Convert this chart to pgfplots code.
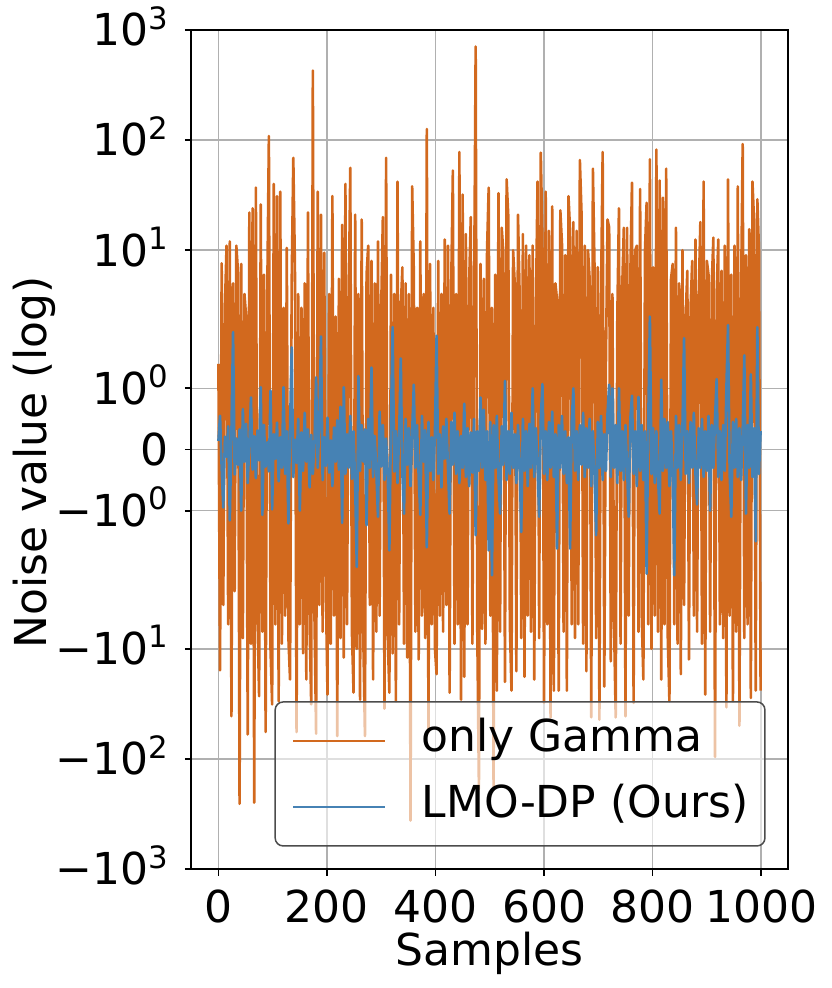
\documentclass[border=0pt]{standalone}
\usepackage{pgfplots}
\pgfplotsset{compat=1.18}
\usepackage{fontspec}
\setmainfont{DejaVu Sans}
\definecolor{gammaorange}{HTML}{D2691E}
\definecolor{lmoblue}{HTML}{4682B4}
\newcommand{\fs}{\fontsize{22}{26}\selectfont}
\newcommand{\pw}[2]{#110\raisebox{8.3pt}{\fontsize{15.4}{16}\selectfont #2}}
\begin{document}
\begin{tikzpicture}
\begin{axis}[
  at={(0pt,0pt)}, anchor=south west,
  scale only axis, width=298.2pt, height=419.5pt,
  xmin=-49.95, xmax=1048.95, ymin=-3.81008, ymax=3.81008,
  y filter/.expression={abs(y)<2 ? 0.5555556*y : (y/abs(y))*(1.1111111+0.4342945*ln(abs(y)/2))},
  xtick={0,200,400,600,800,1000},
  xticklabels={0,200,400,600,800,1000},
  ytick={-3.81008,-2.81008,-1.81008,-0.555556,0,0.555556,1.81008,2.81008,3.81008},
  yticklabels={\pw{−}{3},\pw{−}{2},\pw{−}{1},\pw{−}{0},0,\pw{}{0},\pw{}{1},\pw{}{2},\pw{}{3}},
  tick pos=left, tick align=outside,
  major tick length=3.25pt,
  minor tick num=0,
  tick style={black, line width=0.85pt},
  axis line style={black, line width=0.85pt},
  grid=major,
  major grid style={color=black!31, line width=0.75pt},
  xticklabel style={font=\fs, anchor=base, inner sep=0pt, yshift=-23.5pt},
  yticklabel style={font=\fs, anchor=base east, inner sep=0pt, xshift=-8.2pt, yshift=-7.9pt},
  xlabel={Samples},
  xlabel style={at={(axis description cs:0.5,-0.11526)}, anchor=base, font=\fs, inner sep=0pt},
  ylabel={Noise value (log)},
  ylabel style={at={(axis description cs:-0.2425,0.4845)}, anchor=base, rotate=0, font=\fs, inner sep=0pt},
  legend cell align=left,
  legend style={at={(axis description cs:0.9631,0.02658)}, anchor=south east,
    draw=black!70, line width=0.75pt, rounded corners=4pt,
    fill=white, fill opacity=0.6, text opacity=1, draw opacity=1,
    inner xsep=8.35pt, inner ysep=9pt, row sep=12pt, column sep=17.8pt,
    font=\fs, nodes={inner sep=0pt, text height=16pt, text depth=5pt}},
  legend image code/.code={\draw[#1, line width=1.3pt, opacity=1] (0pt,0pt) -- (45.85pt,0pt);},
  every axis plot/.append style={line width=1.3pt, line join=round, mark=none},
]
\addplot[color=gammaorange] coordinates {
(0,1.4)(3,-15.7)(6,7.6)(9,-4)(12,3)(15,11)(18,-6)(21,12)(24,-41)(27,5)
(30,-3)(33,11)(36,6.5)(39,-256)(42,7.5)(45,-8)(48,4)(51,2.5)(54,-60)(57,22)
(60,-9)(63,24)(66,-250)(69,37)(72,-5)(75,-27)(78,26)(81,-7)(84,6)(87,-57)
(90,4)(93,109)(96,-10)(99,-32)(102,40)(105,-6)(108,31)(111,-30)(114,34)(117,-9)
(120,3)(123,-5)(126,10.5)(129,-8)(132,-19)(135,5)(138,69)(141,7)(144,-57)(147,4)
(150,-6)(153,3)(156,-11)(159,5)(162,-19)(165,22)(168,-6)(171,-32)(174,428)(177,-5)
(180,-59)(183,34)(186,-4)(189,21)(192,-7)(195,9.5)(198,-3)(201,-26)(204,4)(207,-9)
(210,31)(213,-5)(216,2.5)(219,-62)(222,5.5)(225,-8)(228,17)(231,-12)(234,40)(237,-6)
(240,3)(243,56)(246,-7)(249,-25)(252,21)(255,-10)(258,4)(261,-29)(264,19)(267,-8)
(270,-62)(273,6)(276,11)(279,-4)(282,8)(285,-19)(288,5)(291,-7)(294,12)(297,-5)
(300,3)(303,20)(306,-35)(309,69)(312,-8)(315,-25)(318,6)(321,-11)(324,4)(327,-30)
(330,42)(333,-6)(336,3)(339,7)(342,-9)(345,5)(348,-12)(351,4)(354,-363)(357,38)
(360,6.5)(363,-7)(366,3)(369,-12.5)(372,12)(375,-5)(378,4)(381,-8)(384,126)(387,-57)
(390,7.5)(393,-6)(396,3)(399,-10)(402,-17)(405,8)(408,-5)(411,4)(414,-7)(417,12.5)
(420,-4)(423,11)(426,-25)(429,5)(432,53)(435,-9)(438,4)(441,-6)(444,78)(447,-29)
(450,32)(453,-18)(456,14)(459,-6)(462,5)(465,20)(468,-9)(471,3)(474,708)(477,-7)
(480,-187)(483,7.5)(486,-6.6)(489,5.5)(492,-9)(495,10)(498,37)(501,-5)(504,3)(507,-180)
(510,6)(513,-24)(516,33)(519,-7)(522,16)(525,9.5)(528,-20)(531,44)(534,21)(537,-6)
(540,-24)(543,10)(546,5)(549,-16)(552,21)(555,4)(558,-8)(561,14)(564,-18)(567,11)
(570,-5)(573,9)(576,-7)(579,11)(582,-19)(585,3)(588,42)(591,-8)(594,77)(597,12.5)
(600,-31)(603,34)(606,-6)(609,15)(612,-42)(615,25)(618,-24)(621,5)(624,3.5)(627,-24)
(630,23)(633,11.5)(636,-7)(639,9)(642,-24)(645,31)(648,15)(651,-6)(654,18)(657,-8)
(660,15)(663,-6)(666,66)(669,22)(672,-9)(675,11)(678,-16)(681,10)(684,5.5)(687,-42)
(690,55)(693,7)(696,-8)(699,7)(702,-44)(705,4)(708,78)(711,-22)(714,1.4)(717,19)
(720,16)(723,-13)(726,4)(729,-6)(732,-42)(735,2.5)(738,24)(741,-9)(744,4.5)(747,16)
(750,-41)(753,16)(756,-5)(759,6)(762,41)(765,-31)(768,10)(771,11)(774,-7)(777,36)
(780,-5)(783,-19)(786,10)(789,27)(792,-6)(795,67)(798,-10)(801,7)(804,-5)(807,82)
(810,-7)(813,43)(816,-19)(819,30)(822,-6)(825,55)(828,-8)(831,-30)(834,5.5)(837,7.5)
(840,-6)(843,16)(846,-9)(849,5)(852,-17)(855,10)(858,-4)(861,2.5)(864,6.5)(867,-12.5)
(870,3)(873,8)(876,-5)(879,12.5)(882,-7)(885,4)(888,18)(891,-9)(894,42)(897,-26)
(900,8)(903,6)(906,-7)(909,5)(912,13)(915,-96)(918,4)(921,12.5)(924,-6)(927,6.5)
(930,-8)(933,11)(936,-34)(939,44)(942,-5)(945,6)(948,-30)(951,11)(954,-7)(957,38)
(960,-50)(963,4)(966,92)(969,-8)(972,9)(975,-6)(978,15.5)(981,-28)(984,42)(987,18)
(990,-24)(993,29)(996,10)(999,-24)
};
\addlegendentry{only Gamma}
\addplot[color=lmoblue] coordinates {
(0,0.14)(3,0.55)(6,-0.3)(9,-0.95)(12,0.21)(15,-0.12)(18,0.38)(21,-1.16)(24,0.27)(27,1.92)
(30,-0.41)(33,0.18)(36,-0.25)(39,0.33)(42,-1.0)(45,0.66)(48,-0.2)(51,0.42)(54,-0.55)(57,0.09)
(60,0.85)(63,-0.33)(66,0.22)(69,-0.47)(72,0.31)(75,-0.18)(78,1.02)(81,-1.07)(84,0.4)(87,-0.28)
(90,0.12)(93,-0.36)(96,0.96)(99,-0.98)(102,0.25)(105,-0.15)(108,0.44)(111,-0.52)(114,0.2)(117,-0.3)
(120,1.02)(123,-0.4)(126,0.3)(129,-1.21)(132,0.35)(135,1.67)(138,-0.45)(141,0.16)(144,-0.22)(147,0.5)
(150,-1.0)(153,0.28)(156,-0.35)(159,0.6)(162,-0.2)(165,0.33)(168,-0.62)(171,0.24)(174,-0.4)(177,0.1)
(180,1.18)(183,-0.3)(186,0.45)(189,1.85)(192,-0.5)(195,0.2)(198,-0.27)(201,0.52)(204,-0.38)(207,0.15)
(210,-0.6)(213,0.36)(216,-0.2)(219,0.48)(222,-0.33)(225,0.7)(228,-1.2)(231,1.02)(234,-0.4)(237,0.25)
(240,-0.3)(243,0.55)(246,-0.48)(249,0.3)(252,-0.6)(255,-1.92)(258,1.2)(261,-0.35)(264,0.4)(267,-0.2)
(270,0.33)(273,-1.24)(276,0.5)(279,-0.3)(282,1.34)(285,-0.45)(288,0.22)(291,-0.35)(294,-1.1)(297,0.62)
(300,-0.28)(303,0.4)(306,-0.5)(309,0.18)(312,-0.4)(315,-1.65)(318,0.47)(321,2.0)(324,-0.36)(327,0.3)
(330,-0.55)(333,0.25)(336,1.49)(339,-0.4)(342,-1.05)(345,0.5)(348,-0.25)(351,0.35)(354,-0.6)(357,0.28)
(360,1.06)(363,-0.3)(366,0.4)(369,-0.45)(372,-1.07)(375,0.55)(378,-0.2)(381,0.32)(384,-1.6)(387,0.45)
(390,-0.35)(393,0.2)(396,-0.5)(399,0.3)(402,1.86)(405,-0.4)(408,0.25)(411,-0.62)(414,0.38)(417,-0.15)
(420,0.5)(423,-0.3)(426,-1.05)(429,0.45)(432,-0.25)(435,0.6)(438,-0.4)(441,0.3)(444,-0.55)(447,0.22)
(450,-0.3)(453,0.75)(456,-0.45)(459,0.35)(462,-0.6)(465,0.28)(468,-0.38)(471,0.5)(474,-1.4)(477,0.3)
(480,-0.35)(483,0.85)(486,-0.3)(489,0.65)(492,-0.5)(495,0.3)(498,-1.65)(501,0.45)(504,-2.15)(507,0.4)
(510,-0.3)(513,0.55)(516,-0.45)(519,-1.05)(522,0.38)(525,-0.25)(528,1.12)(531,-0.5)(534,0.3)(537,-0.4)
(540,0.6)(543,-0.3)(546,0.25)(549,-0.55)(552,0.4)(555,-0.2)(558,-1.35)(561,0.5)(564,-0.35)(567,0.3)
(570,-0.6)(573,0.42)(576,-0.3)(579,1.0)(582,-0.45)(585,0.35)(588,-0.25)(591,-1.1)(594,0.5)(597,1.07)
(600,-0.4)(603,0.3)(606,-0.5)(609,0.45)(612,-0.3)(615,0.62)(618,-0.45)(621,0.25)(624,-1.62)(627,0.4)
(630,-0.3)(633,0.55)(636,-0.4)(639,0.3)(642,-0.55)(645,0.2)(648,-1.62)(651,0.45)(654,1.0)(657,-0.35)
(660,0.3)(663,-0.5)(666,0.4)(669,-0.25)(672,0.6)(675,-0.45)(678,0.35)(681,-0.3)(684,0.5)(687,-0.6)
(690,0.3)(693,-0.4)(696,-1.4)(699,0.45)(702,-0.3)(705,0.55)(708,-0.5)(711,0.25)(714,-0.35)(717,0.6)
(720,1.06)(723,-0.45)(726,1.0)(729,-0.3)(732,0.4)(735,-0.55)(738,1.0)(741,-0.35)(744,0.3)(747,-0.5)
(750,0.4)(753,-0.3)(756,-1.1)(759,0.5)(762,0.88)(765,-0.4)(768,0.3)(771,-0.6)(774,0.86)(777,-0.35)
(780,0.4)(783,-0.5)(786,0.3)(789,-2.08)(792,0.45)(795,2.5)(798,-0.4)(801,0.35)(804,-0.55)(807,0.3)
(810,-0.45)(813,-1.05)(816,1.14)(819,-0.35)(822,0.5)(825,-0.3)(828,0.45)(831,-0.6)(834,0.3)(837,-0.4)
(840,-2.15)(843,0.55)(846,-0.3)(849,0.4)(852,-0.5)(855,0.35)(858,1.82)(861,-0.4)(864,0.3)(867,-0.55)
(870,0.45)(873,-0.3)(876,0.6)(879,-0.4)(882,-0.9)(885,0.35)(888,-0.3)(891,0.5)(894,-0.45)(897,0.3)
(900,-0.35)(903,0.55)(906,-1.0)(909,0.4)(912,-0.3)(915,0.5)(918,1.15)(921,-0.45)(924,0.3)(927,-0.5)
(930,0.4)(933,-0.35)(936,1.0)(939,2.09)(942,-0.4)(945,-1.1)(948,0.45)(951,-0.3)(954,0.5)(957,-0.45)
(960,0.35)(963,-0.5)(966,0.3)(969,1.54)(972,-1.05)(975,0.4)(978,-0.3)(981,1.23)(984,-0.45)(987,0.35)
(990,-1.5)(993,2.0)(996,-0.4)(999,0.3)
};
\addlegendentry{LMO-DP (Ours)}
\end{axis}
\pgfresetboundingbox
\path (-95.65pt,-59.5pt) rectangle (319.85pt,434.5pt);
\end{tikzpicture}
\end{document}
